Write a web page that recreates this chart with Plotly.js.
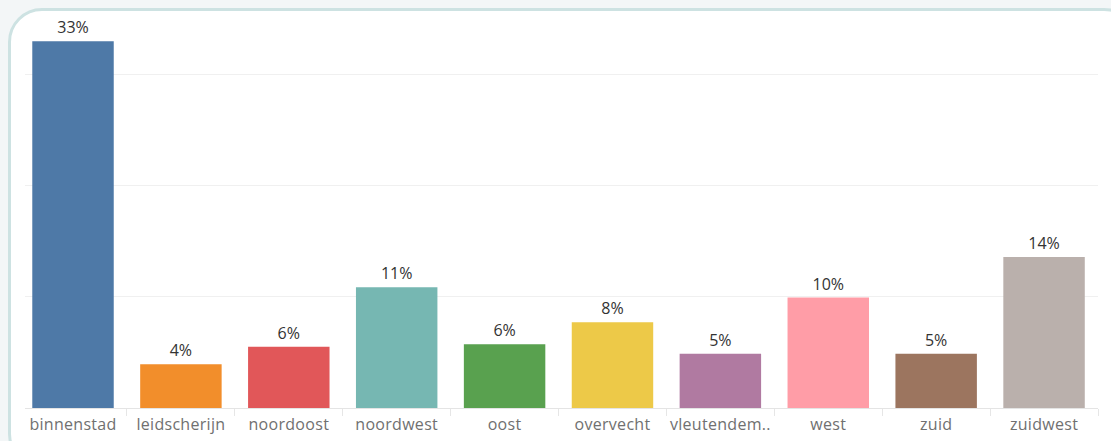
<!DOCTYPE html>
<html>
<head>
<meta charset="utf-8">
<script src="https://cdn.plot.ly/plotly-3.0.1.min.js"></script>
<style>
  html, body { margin: 0; padding: 0; width: 1111px; height: 441px; overflow: hidden; background: #f3f6f7; }
  #card { position: absolute; left: 8px; top: 8px; width: 1130px; height: 460px; box-sizing: border-box;
          border: 3px solid #cde2e2; border-radius: 34px; background: #ffffff; }
  #chart { position: absolute; left: 0; top: 0; width: 1111px; height: 441px; }
  #chart .xtick text { letter-spacing: 0.3px; }
</style>
</head>
<body>
<div id="card"></div>
<div id="chart"></div>
<script>
const categories = ["binnenstad", "leidscherijn", "noordoost", "noordwest", "oost", "overvecht", "vleutendem..", "west", "zuid", "zuidwest"];
const values = [33.0, 3.94, 5.52, 10.87, 5.74, 7.72, 4.89, 9.94, 4.89, 13.58];
const colors = ["#4e79a7", "#f28e2b", "#e15759", "#76b7b2", "#59a14f", "#edc948", "#b07aa1", "#ff9da7", "#9c755f", "#bab0ac"];

const trace = {
  type: "bar",
  x: categories,
  y: values,
  marker: { color: colors },
  texttemplate: "%{y:.0f}%",
  textposition: "outside",
  cliponaxis: false,
  textfont: { family: "Open Sans, sans-serif", size: 16, color: "#333333" },
  hoverinfo: "x+y"
};

const layout = {
  width: 1111,
  height: 441,
  margin: { l: 25, r: 13, t: 19, b: 33 },
  paper_bgcolor: "rgba(0,0,0,0)",
  plot_bgcolor: "rgba(0,0,0,0)",
  bargap: 0.245,
  showlegend: false,
  xaxis: {
    type: "category",
    range: [-0.445, 9.5],
    showgrid: false,
    tickson: "boundaries",
    ticks: "outside",
    ticklen: 7,
    tickcolor: "#e6e6e6",
    tickwidth: 1,
    ticklabelstandoff: 5,
    showline: false,
    tickfont: { family: "Open Sans, sans-serif", size: 16, color: "#707070" },
    fixedrange: true
  },
  yaxis: {
    range: [0, 35],
    dtick: 10,
    showgrid: true,
    gridcolor: "#f0f0f0",
    gridwidth: 1,
    zeroline: true,
    zerolinecolor: "#e4e4e4",
    zerolinewidth: 1,
    showticklabels: false,
    fixedrange: true
  }
};

Plotly.newPlot("chart", [trace], layout, { displayModeBar: false, staticPlot: true });
</script>
</body>
</html>
